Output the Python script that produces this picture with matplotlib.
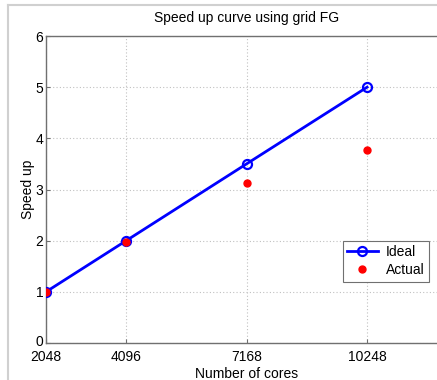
import matplotlib
matplotlib.use("Agg")
import matplotlib.pyplot as plt
from matplotlib.lines import Line2D
import matplotlib.transforms as mtransforms

cores = [2048, 4096, 7168, 10248]
ideal = [1, 2, 3.5, 5]
actual = [1, 1.97, 3.12, 3.77]
xtick_labels = ["2048", "4096", "7168", "10248"]
yticks = [0, 1, 2, 3, 4, 5, 6]

plt.rcParams['font.family'] = ['Liberation Sans', 'DejaVu Sans']

fig = plt.figure(figsize=(4.37, 3.80), dpi=100)
W, H = 437, 380
ax = fig.add_axes([46 / W, 37 / H, 401 / W, 307 / H])

ax.plot(cores, ideal, color='#0000ff', lw=2, marker='o', ms=6.5,
        mfc='none', mec='#0000ff', mew=1.6, label='Ideal', zorder=3)
ax.plot(cores, actual, ls='none', marker='o', ms=5, color='#ff0000',
        label='Actual', zorder=4)

ax.set_xlim(2048, 12288)
ax.set_ylim(0, 6)
ax.set_xticks(cores)
ax.set_xticklabels(xtick_labels)
ax.set_yticks(yticks)
ax.grid(True, ls=(0, (1, 2)), color='#c0c0c0', lw=0.8)
ax.tick_params(direction='in', length=3, color='#707070', labelsize=10)
ax.tick_params(axis='x', pad=5)
ax.tick_params(axis='y', pad=2)
for lbl in ax.get_yticklabels():
    if lbl.get_text() == '0':
        lbl.set_transform(lbl.get_transform() +
                          mtransforms.ScaledTranslation(0, 3 / 100, fig.dpi_scale_trans))
for s in ax.spines.values():
    s.set_color('#707070')
    s.set_linewidth(1)

ax.set_title('Speed up curve using grid FG', fontsize=10, pad=10)
ax.set_xlabel('Number of cores', fontsize=10, labelpad=2)
ax.set_ylabel('Speed up', fontsize=10, labelpad=0.5)

leg = ax.legend(loc='upper left', bbox_to_anchor=(343 / W, 1 - 241 / H),
                bbox_transform=fig.transFigure, fontsize=10, frameon=True,
                fancybox=False, edgecolor='#707070', framealpha=1,
                borderpad=0.3, handlelength=2.2, labelspacing=0.3,
                handletextpad=0.6, borderaxespad=0)
leg.get_frame().set_linewidth(0.8)

# window frame lines
fig.add_artist(Line2D([8 / W, 8 / W], [0, 1 - 5 / H], transform=fig.transFigure,
                      color='#d0d0d0', lw=1.5))
fig.add_artist(Line2D([8 / W, 1], [1 - 5 / H, 1 - 5 / H], transform=fig.transFigure,
                      color='#d0d0d0', lw=1.5))

fig.savefig('out.png', dpi=100)
